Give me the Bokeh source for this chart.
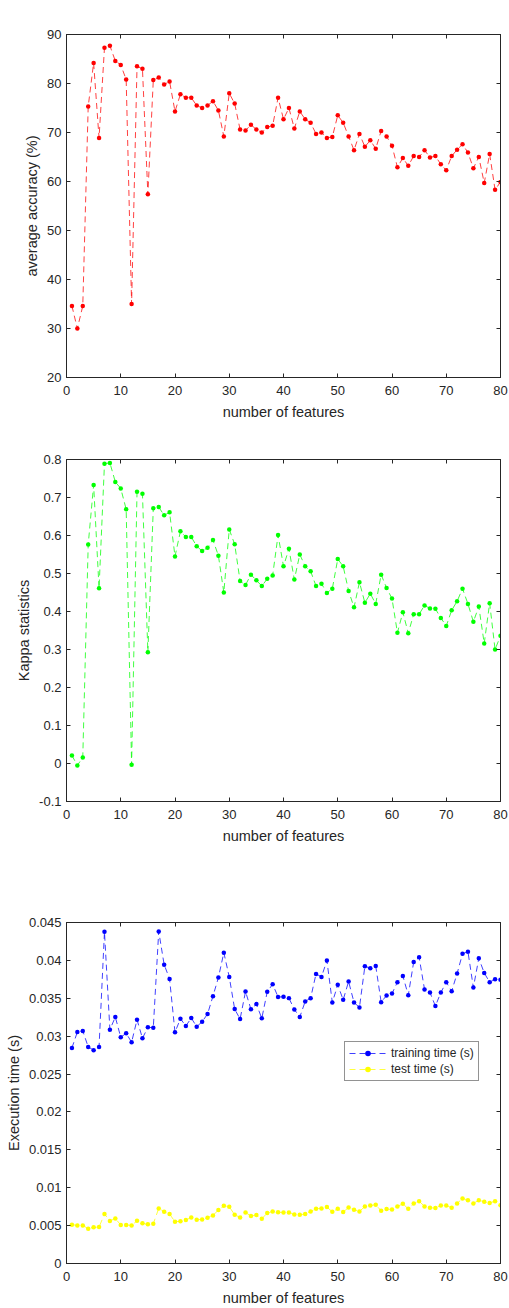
from bokeh.plotting import figure
from bokeh.layouts import column
from bokeh.models import Range1d, FixedTicker, LinearAxis, Legend, LegendItem
from bokeh.embed import file_html
from bokeh.resources import INLINE

# ---------------- data ----------------
features = list(range(1, 81))

accuracy = [34.6, 30.0, 34.6, 75.3, 84.2, 68.9, 87.3, 87.7, 84.6, 83.8,
            80.8, 35.0, 83.5, 83.0, 57.4, 80.7, 81.2, 79.8, 80.4, 74.3,
            77.8, 77.1, 77.1, 75.5, 75.0, 75.5, 76.4, 74.5, 69.2, 78.0,
            75.9, 70.6, 70.4, 71.6, 70.6, 70.0, 71.1, 71.4, 77.1, 72.7,
            75.0, 70.8, 74.3, 72.7, 72.0, 69.7, 70.0, 68.9, 69.1, 73.5,
            72.0, 69.2, 66.4, 69.7, 67.1, 68.4, 66.7, 70.3, 69.2, 67.3,
            62.9, 64.8, 63.2, 65.2, 65.0, 66.4, 64.9, 65.2, 63.5, 62.3,
            65.2, 66.5, 67.6, 65.9, 62.7, 65.0, 59.7, 65.6, 58.3, 59.9]

kappa = [0.021, -0.005, 0.016, 0.576, 0.733, 0.461, 0.789, 0.791, 0.741, 0.724,
         0.669, -0.003, 0.715, 0.710, 0.293, 0.672, 0.675, 0.653, 0.661, 0.545,
         0.611, 0.596, 0.596, 0.572, 0.559, 0.568, 0.588, 0.547, 0.450, 0.616,
         0.577, 0.480, 0.470, 0.497, 0.482, 0.467, 0.486, 0.495, 0.601, 0.519,
         0.565, 0.484, 0.550, 0.519, 0.506, 0.467, 0.473, 0.449, 0.460, 0.538,
         0.519, 0.454, 0.411, 0.477, 0.423, 0.447, 0.420, 0.497, 0.462, 0.434,
         0.344, 0.398, 0.343, 0.393, 0.393, 0.416, 0.408, 0.407, 0.383, 0.362,
         0.403, 0.427, 0.460, 0.420, 0.373, 0.413, 0.316, 0.422, 0.300, 0.336]

train_time = [0.02845, 0.03055, 0.03069, 0.02858, 0.02815, 0.02858, 0.04377, 0.03086, 0.03252, 0.02985,
              0.03038, 0.02920, 0.03217, 0.02972, 0.03117, 0.03112, 0.04382, 0.03944, 0.03756, 0.03051,
              0.03231, 0.03134, 0.03239, 0.03125, 0.03191, 0.03292, 0.03528, 0.03773, 0.04102, 0.03782,
              0.03357, 0.03226, 0.03589, 0.03355, 0.03423, 0.03235, 0.03585, 0.03686, 0.03517, 0.03519,
              0.03502, 0.03353, 0.03252, 0.03458, 0.03502, 0.03822, 0.03782, 0.03997, 0.03445, 0.03677,
              0.03480, 0.03721, 0.03445, 0.03379, 0.03922, 0.03896, 0.03926, 0.03449, 0.03537, 0.03563,
              0.03712, 0.03795, 0.03541, 0.03979, 0.04040, 0.03616, 0.03576, 0.03397, 0.03576, 0.03712,
              0.03594, 0.03826, 0.04088, 0.04115, 0.03642, 0.04027, 0.03835, 0.03712, 0.03751, 0.03743]

test_time = [0.00512, 0.00503, 0.00503, 0.00460, 0.00477, 0.00481, 0.00652, 0.00560, 0.00595, 0.00508,
             0.00508, 0.00503, 0.00565, 0.00530, 0.00517, 0.00525, 0.00727, 0.00683, 0.00652, 0.00552,
             0.00556, 0.00573, 0.00608, 0.00578, 0.00582, 0.00604, 0.00635, 0.00705, 0.00762, 0.00749,
             0.00643, 0.00608, 0.00674, 0.00626, 0.00639, 0.00591, 0.00665, 0.00687, 0.00676, 0.00674,
             0.00674, 0.00648, 0.00643, 0.00652, 0.00687, 0.00722, 0.00727, 0.00744, 0.00683, 0.00722,
             0.00678, 0.00740, 0.00709, 0.00687, 0.00753, 0.00766, 0.00775, 0.00696, 0.00718, 0.00714,
             0.00753, 0.00788, 0.00722, 0.00792, 0.00823, 0.00753, 0.00735, 0.00731, 0.00766, 0.00766,
             0.00735, 0.00792, 0.00858, 0.00836, 0.00792, 0.00836, 0.00814, 0.00797, 0.00823, 0.00770]

x_ticks = [0, 10, 20, 30, 40, 50, 60, 70, 80]
acc_ticks = [20, 30, 40, 50, 60, 70, 80, 90]
acc_tick_labels = ["20", "30", "40", "50", "60", "70", "80", "90"]
kappa_ticks = [-0.1, 0, 0.1, 0.2, 0.3, 0.4, 0.5, 0.6, 0.7, 0.8]
kappa_tick_labels = ["-0.1", "0", "0.1", "0.2", "0.3", "0.4", "0.5", "0.6", "0.7", "0.8"]
time_ticks = [0, 0.005, 0.01, 0.015, 0.02, 0.025, 0.03, 0.035, 0.04, 0.045]
time_tick_labels = ["0", "0.005", "0.01", "0.015", "0.02", "0.025", "0.03", "0.035", "0.04", "0.045"]

# ---------------- style ----------------
TXT = "#262626"
FONT = "Liberation Sans"
DASH = "6 4"


def make_fig(height, btop, bbottom, yrange, yticks, ylabels, ylabel):
    p = figure(width=509, height=height, x_range=Range1d(0, 80), y_range=Range1d(*yrange),
               output_backend="svg", toolbar_location=None,
               min_border_left=66, min_border_right=9,
               min_border_top=btop, min_border_bottom=bbottom)
    p.xgrid.visible = False
    p.ygrid.visible = False
    p.outline_line_color = TXT
    p.outline_line_alpha = 1
    p.background_fill_color = "white"
    p.border_fill_color = "white"

    p.xaxis.ticker = FixedTicker(ticks=x_ticks)
    p.yaxis.ticker = FixedTicker(ticks=yticks)
    p.yaxis.major_label_overrides = dict(zip(yticks, ylabels))
    p.xaxis.axis_label = "number of features"
    p.yaxis.axis_label = ylabel
    for ax in (p.xaxis, p.yaxis):
        ax.axis_line_color = TXT
        ax.major_tick_line_color = TXT
        ax.major_tick_in = 4
        ax.major_tick_out = 0
        ax.minor_tick_line_color = None
        ax.major_label_text_font = FONT
        ax.major_label_text_font_size = "13px"
        ax.major_label_text_color = TXT
        ax.axis_label_text_font = FONT
        ax.axis_label_text_font_size = "14.5px"
        ax.axis_label_text_font_style = "normal"
        ax.axis_label_text_color = TXT
    p.xaxis.major_label_standoff = 8
    p.xaxis.axis_label_standoff = 6
    p.yaxis.major_label_standoff = 5
    p.yaxis.axis_label_standoff = 4

    # tick marks on the top and right sides of the box (no labels)
    top = LinearAxis(ticker=FixedTicker(ticks=x_ticks))
    right = LinearAxis(ticker=FixedTicker(ticks=yticks))
    for ax in (top, right):
        ax.axis_line_color = TXT
        ax.major_tick_line_color = TXT
        ax.major_tick_in = 4
        ax.major_tick_out = 0
        ax.minor_tick_line_color = None
        ax.major_label_text_font_size = "1px"
        ax.major_label_text_color = None
        ax.major_label_standoff = 0
    p.add_layout(top, "above")
    p.add_layout(right, "right")
    return p


def add_series(p, y, color):
    ln = p.line(features, y, line_color=color, line_dash=DASH, line_width=1, line_alpha=0.75)
    sc = p.scatter(features, y, size=4.5, fill_color=color, line_color=None, marker="circle")
    return ln, sc


# ---------------- figure 1 ----------------
p1 = make_fig(427, 34, 50, (20, 90), acc_ticks, acc_tick_labels, "average accuracy (%)")
add_series(p1, accuracy, "#ff0000")

# ---------------- figure 2 ----------------
p2 = make_fig(424, 32, 50, (-0.1, 0.8), kappa_ticks, kappa_tick_labels, "Kappa statistics")
add_series(p2, kappa, "#00ff00")

# ---------------- figure 3 ----------------
p3 = make_fig(457, 71, 43, (0, 0.045), time_ticks, time_tick_labels, "Execution time (s)")
l1, s1 = add_series(p3, train_time, "#0000ff")
l2, s2 = add_series(p3, test_time, "#ffff00")
legend = Legend(items=[LegendItem(label="training time (s)", renderers=[l1, s1]),
                       LegendItem(label="test time (s)", renderers=[l2, s2])],
                location=(278, 182), margin=0, padding=4, spacing=2,
                glyph_width=37, glyph_height=14, label_height=14, label_standoff=5,
                label_text_font=FONT, label_text_font_size="12px", label_text_color=TXT,
                border_line_color=TXT, border_line_width=1, background_fill_color="white",
                background_fill_alpha=1)
p3.add_layout(legend)

layout = column(p1, p2, p3, spacing=0)
open("out.html", "w").write(file_html(layout, INLINE))
